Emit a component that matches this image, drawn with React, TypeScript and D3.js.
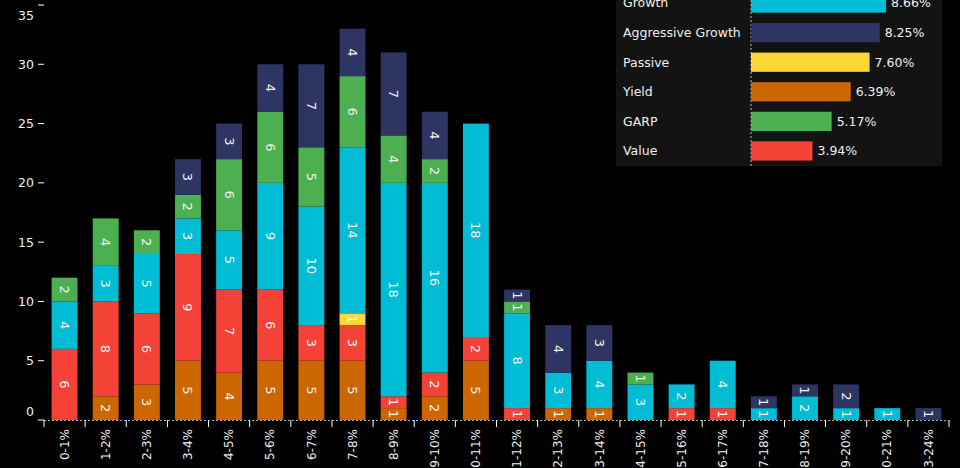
import React from "react";
import * as d3 from "d3";

const categories = ["0-1%", "1-2%", "2-3%", "3-4%", "4-5%", "5-6%", "6-7%", "7-8%", "8-9%", "9-10%", "10-11%", "11-12%", "12-13%", "13-14%", "14-15%", "15-16%", "16-17%", "17-18%", "18-19%", "19-20%", "20-21%", "23-24%"];
const seriesNames = ["Yield", "Value", "Passive", "Growth", "GARP", "Aggressive Growth"];
const yieldVals = [0, 2, 3, 5, 4, 5, 5, 5, 1, 2, 5, 0, 1, 1, 0, 0, 0, 0, 0, 0, 0, 0];
const valueVals = [6, 8, 6, 9, 7, 6, 3, 3, 1, 2, 2, 1, 0, 0, 0, 1, 1, 0, 0, 0, 0, 0];
const passiveVals = [0, 0, 0, 0, 0, 0, 0, 1, 0, 0, 0, 0, 0, 0, 0, 0, 0, 0, 0, 0, 0, 0];
const growthVals = [4, 3, 5, 3, 5, 9, 10, 14, 18, 16, 18, 8, 3, 4, 3, 2, 4, 1, 2, 1, 1, 0];
const garpVals = [2, 4, 2, 2, 6, 6, 5, 6, 4, 2, 0, 1, 0, 0, 1, 0, 0, 0, 0, 0, 0, 0];
const aggVals = [0, 0, 0, 3, 3, 4, 7, 4, 7, 4, 0, 1, 4, 3, 0, 0, 0, 1, 1, 2, 0, 1];
const yTicks = [0, 5, 10, 15, 20, 25, 30, 35];

const legendNames = ["Growth", "Aggressive Growth", "Passive", "Yield", "GARP", "Value"];
const legendValues = [8.66, 8.25, 7.6, 6.39, 5.17, 3.94];

const colors: Record<string, string> = {
  Yield: "#cc6600",
  Value: "#f44336",
  Passive: "#fdd835",
  Growth: "#00bcd4",
  GARP: "#4caf50",
  "Aggressive Growth": "#2e3562",
};

const seriesData = [yieldVals, valueVals, passiveVals, growthVals, garpVals, aggVals];

export default function App() {
  const W = 960, H = 468;
  const font = "DejaVu Sans, sans-serif";
  const x = d3.scaleBand<string>().domain(categories).range([44, 949]).paddingInner(0.37).paddingOuter(0.185);
  const y = d3.scaleLinear().domain([0, 35]).range([420, 5]);

  const table = categories.map((c, i) => {
    const o: any = { cat: c };
    seriesNames.forEach((s, k) => (o[s] = seriesData[k][i]));
    return o;
  });
  const stacked = d3.stack<any>().keys(seriesNames)(table);

  const step = x.step();
  const boundaries = d3.range(categories.length + 1).map((i) => 44 + i * step);

  // legend inset
  const lx = d3.scaleLinear().domain([0, 10]).range([751, 751 + 156]);
  const ly = d3.scaleBand<string>().domain(legendNames).range([-11, 165]).paddingInner(0.35).paddingOuter(0.15);

  return (
    <svg width={W} height={H} style={{ position: "absolute", left: 0, top: 0, background: "#000" }}>
      <rect x={0} y={0} width={W} height={H} fill="#000" />
      {/* y axis */}
      {yTicks.map((t, i) => {
        let ly2 = y(t);
        if (i === 0) ly2 = y(t) - 8;
        if (i === yTicks.length - 1) ly2 = y(t) + 11;
        return (
          <g key={t}>
            <line x1={38} x2={44} y1={y(t)} y2={y(t)} stroke="#fff" strokeWidth={1} />
            <text x={34} y={ly2} dy="0.35em" textAnchor="end" fill="#eee" fontFamily={font} fontSize={12.5}>{t}</text>
          </g>
        );
      })}
      {/* bars */}
      {stacked.map((layer) => (
        <g key={layer.key}>
          {layer.map((d, i) => {
            const v = d[1] - d[0];
            if (v <= 0) return null;
            const x0 = x(categories[i])!;
            const y0 = y(d[1]);
            const h = y(d[0]) - y(d[1]);
            const cx = x0 + x.bandwidth() / 2;
            const cy = y0 + h / 2;
            return (
              <g key={i}>
                <rect x={x0} y={y0} width={x.bandwidth()} height={h} fill={colors[layer.key]} />
                <text transform={`translate(${cx},${cy}) rotate(90)`} textAnchor="middle" dy="0.35em" fill="#f2f2f2" fontFamily={font} fontSize={13}>{v}</text>
              </g>
            );
          })}
        </g>
      ))}
      {/* x axis */}
      <line x1={44} x2={949} y1={420.5} y2={420.5} stroke="#aaa" strokeDasharray="2,2" />
      {boundaries.map((bx, i) => (
        <line key={i} x1={bx} x2={bx} y1={420} y2={427} stroke="#fff" strokeWidth={1} />
      ))}
      {categories.map((c) => (
        <text key={c} transform={`translate(${x(c)! + x.bandwidth() / 2},${429}) rotate(-90)`} textAnchor="end" dy="0.35em" fill="#eee" fontFamily={font} fontSize={12}>{c}</text>
      ))}
      {/* legend inset */}
      <rect x={616} y={0} width={326} height={166} fill="#131313" />
      <line x1={751} x2={751} y1={0} y2={166} stroke="#bbb" strokeDasharray="2,2" />
      {legendNames.map((n, i) => {
        const by = ly(n)!;
        const bh = ly.bandwidth();
        return (
          <g key={n}>
            <rect x={lx(0)} y={by} width={lx(legendValues[i]) - lx(0)} height={bh} fill={colors[n]} />
            <text x={623} y={by + bh / 2} dy="0.35em" fill="#eee" fontFamily={font} fontSize={12.5}>{n}</text>
            <text x={lx(legendValues[i]) + 5} y={by + bh / 2} dy="0.35em" fill="#eee" fontFamily={font} fontSize={12.5}>{legendValues[i].toFixed(2) + "%"}</text>
          </g>
        );
      })}
    </svg>
  );
}
